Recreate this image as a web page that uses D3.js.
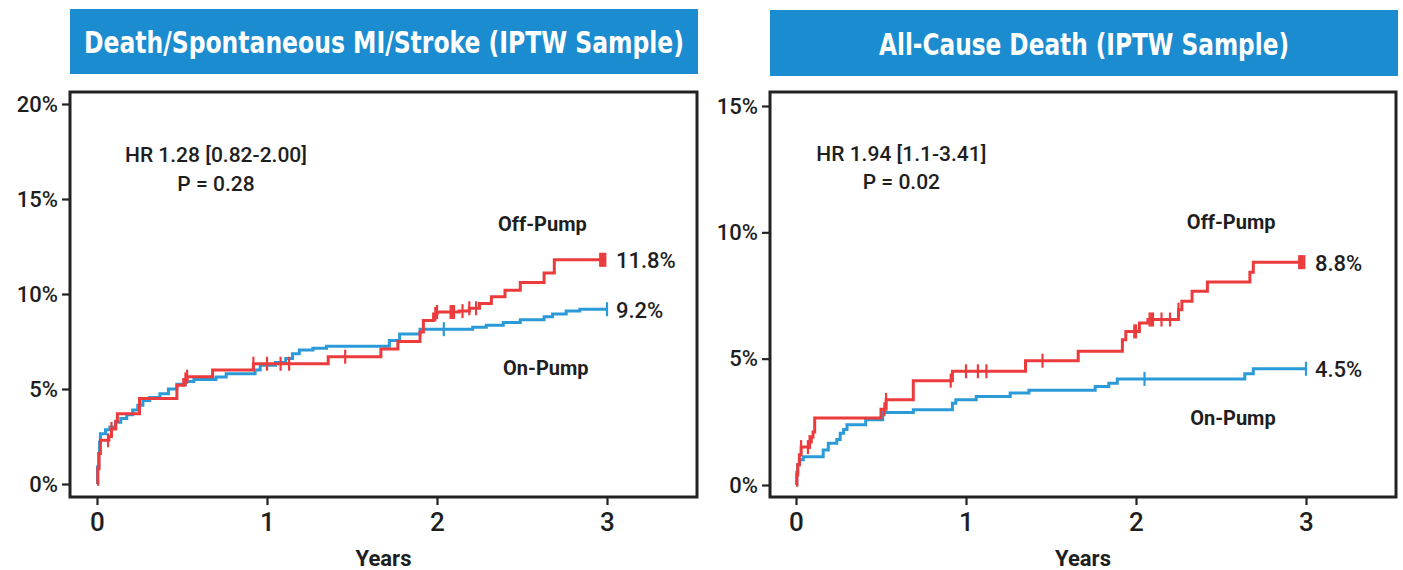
<!DOCTYPE html>
<html>
<head>
<meta charset="utf-8">
<script src="https://cdn.jsdelivr.net/npm/d3@7"></script>
<style>
  body { margin: 0; background: #fff; }
  svg text { font-family: Roboto, "Liberation Sans", Arial, sans-serif; font-weight: 500; fill: #1e1e1e; }
</style>
</head>
<body>
<svg id="chart" width="1403" height="570"></svg>
<script>
// ---- data ----
const titles = ["Death/Spontaneous MI/Stroke (IPTW Sample)", "All-Cause Death (IPTW Sample)"];
const yearTicks = [0, 1, 2, 3];
const leftPctTicks = [0, 5, 10, 15, 20];
const rightPctTicks = [0, 5, 10, 15];
const groupNames = ["Off-Pump", "On-Pump"];
const hrLines = [["HR 1.28 [0.82-2.00]", "P = 0.28"], ["HR 1.94 [1.1-3.41]", "P = 0.02"]];
const endLabels = [["11.8%", "9.2%"], ["8.8%", "4.5%"]];

// [years, cumulative %] (step after)
const leftOffPump = [[0,0],[0.005,0.8],[0.012,1.6],[0.02,2.3],[0.07,2.5],[0.085,2.9],[0.11,3.3],[0.12,3.7],
  [0.25,4.5],[0.47,5.2],[0.51,5.5],[0.53,5.65],[0.68,6.0],[0.92,6.33],[1.36,6.7],[1.67,7.1],[1.77,7.5],
  [1.9,8.0],[1.92,8.6],[1.98,8.95],[2.0,9.05],[2.13,9.1],[2.19,9.25],[2.25,9.5],[2.32,9.85],[2.4,10.2],
  [2.49,10.6],[2.63,11.1],[2.69,11.8],[2.99,11.8]];
const leftOnPump = [[0,0],[0.003,0.9],[0.01,1.6],[0.015,2.2],[0.02,2.65],[0.05,2.85],[0.076,3.0],[0.11,3.25],
  [0.14,3.45],[0.175,3.65],[0.21,3.9],[0.24,4.15],[0.27,4.4],[0.31,4.55],[0.37,4.75],[0.42,5.0],[0.47,5.25],
  [0.52,5.4],[0.57,5.5],[0.7,5.63],[0.76,5.8],[0.93,6.0],[0.96,6.25],[1.05,6.4],[1.11,6.6],[1.15,6.85],
  [1.19,7.05],[1.27,7.15],[1.35,7.25],[1.72,7.55],[1.78,7.9],[1.9,8.15],[2.21,8.25],[2.29,8.35],[2.39,8.5],
  [2.49,8.65],[2.63,8.8],[2.68,8.95],[2.76,9.1],[2.84,9.2],[3.0,9.2]];
const leftOffCensor = [0.065, 0.085, 0.52, 0.53, 0.92, 1.0, 1.08, 1.13, 1.46, 1.99, 2.0, 2.08, 2.09, 2.1, 2.15, 2.19, 2.23, 2.96, 2.97, 2.98, 2.99];
const leftOnCensor = [2.04, 3.0];

const rightOffPump = [[0,0],[0.005,0.4],[0.01,0.8],[0.02,1.2],[0.03,1.5],[0.08,1.7],[0.09,1.9],[0.1,2.1],
  [0.11,2.65],[0.5,3.0],[0.53,3.37],[0.69,4.13],[0.92,4.5],[1.35,4.92],[1.66,5.29],[1.92,5.75],[1.94,6.08],
  [2.02,6.41],[2.07,6.55],[2.25,6.94],[2.27,7.27],[2.33,7.67],[2.42,8.03],[2.67,8.42],[2.69,8.82],[2.99,8.82]];
const rightOnPump = [[0,0],[0.005,0.5],[0.01,0.8],[0.02,1.0],[0.043,1.12],[0.16,1.39],[0.19,1.65],[0.24,1.8],
  [0.26,2.05],[0.28,2.2],[0.3,2.38],[0.41,2.58],[0.51,2.87],[0.69,2.98],[0.92,3.24],[0.94,3.37],[1.06,3.5],
  [1.26,3.64],[1.37,3.75],[1.76,3.9],[1.84,4.03],[1.89,4.2],[2.64,4.4],[2.69,4.6],[3.0,4.6]];
const rightOffCensor = [0.03, 0.07, 0.08, 0.52, 0.53, 0.91, 1.0, 1.07, 1.12, 1.45, 1.99, 2.0, 2.08, 2.09, 2.1, 2.15, 2.2, 2.25, 2.96, 2.97, 2.98, 2.99];
const rightOnCensor = [2.05, 3.0];

const RED = "#ec3b3d", BLUE = "#2b9ad8", TITLE_BG = "#1b8cd0";

const panels = [
  { title: titles[0], box: [70, 9, 628, 65], frame: [70, 92, 697, 497], xr: [97, 607], ydom: [0, 20], yr: [484, 104],
    ticks: leftPctTicks, off: leftOffPump, on: leftOnPump, offC: leftOffCensor, onC: leftOnCensor,
    hr: hrLines[0], hrPos: [0.7, 17.3, 15.8], offPos: [2.62, 13.7], onPos: [2.64, 6.1], ends: endLabels[0] },
  { title: titles[1], box: [770, 10, 628, 66], frame: [770, 92, 1396, 497], xr: [796, 1306], ydom: [0, 15], yr: [485, 106],
    ticks: rightPctTicks, off: rightOffPump, on: rightOnPump, offC: rightOffCensor, onC: rightOnCensor,
    hr: hrLines[1], hrPos: [0.62, 13.1, 12.0], offPos: [2.56, 10.4], onPos: [2.57, 2.65], ends: endLabels[1] }
];

const svg = d3.select("#chart");
const bis = d3.bisector(d => d[0]).right;
const valueAt = (s, t) => s[Math.max(0, bis(s, t) - 1)][1];

panels.forEach(p => {
  const g = svg.append("g");
  const x = d3.scaleLinear().domain([0, 3]).range(p.xr);
  const y = d3.scaleLinear().domain(p.ydom).range(p.yr);
  const [fx0, fy0, fx1, fy1] = p.frame;

  // title banner
  g.append("rect").attr("x", p.box[0]).attr("y", p.box[1]).attr("width", p.box[2]).attr("height", p.box[3])
    .attr("fill", TITLE_BG);
  const tt = g.append("text").attr("x", p.box[0] + p.box[2] / 2).attr("y", p.box[1] + p.box[3] / 2 + 1)
    .attr("text-anchor", "middle").attr("dominant-baseline", "central")
    .style("font-family", "'Liberation Sans Narrow','DejaVu Sans Condensed','Liberation Sans',sans-serif")
    .style("font-weight", "bold").style("font-size", "30px").style("fill", "#fff")
    .text(p.title);
  const target = p.title.length > 35 ? 600 : 410;
  tt.attr("textLength", target).attr("lengthAdjust", "spacingAndGlyphs");

  // axes
  const ya = g.append("g").attr("transform", `translate(${fx0},0)`)
    .call(d3.axisLeft(y).tickValues(p.ticks).tickSize(8).tickPadding(4).tickFormat(d => d + "%"));
  ya.select(".domain").remove();
  ya.selectAll(".tick line").attr("stroke", "#222").attr("stroke-width", 2.2);
  ya.selectAll(".tick text").style("font-size", "22px").attr("fill", "#1e1e1e");

  const xa = g.append("g").attr("transform", `translate(0,${fy1})`)
    .call(d3.axisBottom(x).tickValues(yearTicks).tickSize(8).tickPadding(8).tickFormat(d3.format("d")));
  xa.select(".domain").remove();
  xa.selectAll(".tick line").attr("stroke", "#222").attr("stroke-width", 2.2);
  xa.selectAll(".tick text").style("font-size", "26px").attr("fill", "#1e1e1e");

  g.append("text").attr("x", (fx0 + fx1) / 2).attr("y", 566)
    .attr("text-anchor", "middle").style("font-size", "22px").style("font-weight", "bold").text("Years");

  // curves
  const line = d3.line().x(d => x(d[0])).y(d => y(d[1])).curve(d3.curveStepAfter);
  [[p.on, p.onC, BLUE], [p.off, p.offC, RED]].forEach(([s, c, col]) => {
    g.append("path").attr("d", line(s)).attr("fill", "none").attr("stroke", col).attr("stroke-width", 3);
    g.selectAll(null).data(c).enter().append("line")
      .attr("x1", d => x(d)).attr("x2", d => x(d))
      .attr("y1", d => y(valueAt(s, d)) - 7).attr("y2", d => y(valueAt(s, d)) + 7)
      .attr("stroke", col).attr("stroke-width", 2.2);
  });

  // frame
  g.append("rect").attr("x", fx0).attr("y", fy0).attr("width", fx1 - fx0).attr("height", fy1 - fy0)
    .attr("fill", "none").attr("stroke", "#222").attr("stroke-width", 3);

  // annotations
  g.append("text").attr("x", x(p.hrPos[0])).attr("y", y(p.hrPos[1])).attr("text-anchor", "middle")
    .attr("dominant-baseline", "central").style("font-size", "21px").text(p.hr[0]);
  g.append("text").attr("x", x(p.hrPos[0])).attr("y", y(p.hrPos[2])).attr("text-anchor", "middle")
    .attr("dominant-baseline", "central").style("font-size", "21px").text(p.hr[1]);
  g.append("text").attr("x", x(p.offPos[0])).attr("y", y(p.offPos[1])).attr("text-anchor", "middle")
    .attr("dominant-baseline", "central").style("font-size", "20px").style("font-weight", "bold").text(groupNames[0]);
  g.append("text").attr("x", x(p.onPos[0])).attr("y", y(p.onPos[1])).attr("text-anchor", "middle")
    .attr("dominant-baseline", "central").style("font-size", "20px").style("font-weight", "bold").text(groupNames[1]);

  const offEnd = p.off[p.off.length - 1], onEnd = p.on[p.on.length - 1];
  g.append("text").attr("x", x(3) + 9).attr("y", y(offEnd[1]) + 1).attr("dominant-baseline", "central")
    .style("font-size", "22px").text(p.ends[0]);
  g.append("text").attr("x", x(3) + 9).attr("y", y(onEnd[1]) + 1).attr("dominant-baseline", "central")
    .style("font-size", "22px").text(p.ends[1]);
});
</script>
</body>
</html>
